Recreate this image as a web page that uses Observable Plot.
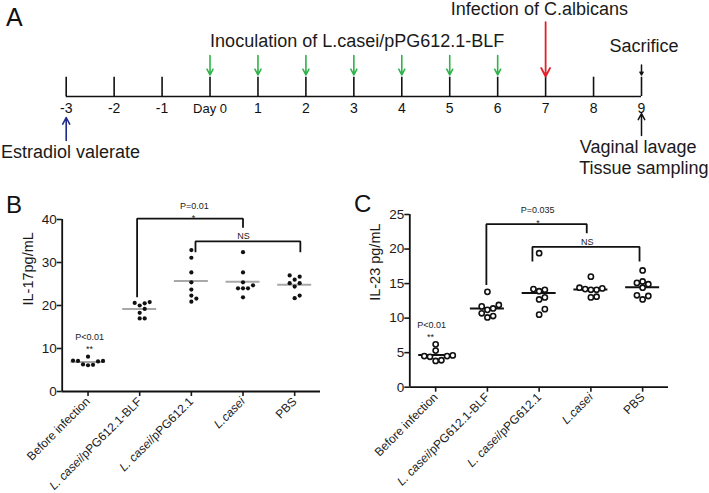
<!DOCTYPE html>
<html><head><meta charset="utf-8">
<script src="https://cdn.jsdelivr.net/npm/d3@7"></script>
<script src="https://cdn.jsdelivr.net/npm/@observablehq/plot@0.6"></script>
<style>
html,body{margin:0;padding:0;background:#fff;}
#fig{position:relative;width:709px;height:493px;overflow:hidden;font-family:"Liberation Sans",Arial,Helvetica,sans-serif;color:#1a1a1a;background:#fff;}
#fig svg{position:absolute;overflow:visible;}
.letter{position:absolute;line-height:1;font-family:"Liberation Sans",Arial,sans-serif;color:#111;}
</style></head><body><div id="fig"></div>
<script>
// ---------- Panel A: timeline data ----------
const days = [-3,-2,-1,0,1,2,3,4,5,6,7,8,9];
const dayLabels = ["-3","-2","-1","Day 0","1","2","3","4","5","6","7","8","9"];
const inoculationDays = [0,1,2,3,4,5,6];
const infectionDays = [7];
const sacrificeDays = [9];
const estradiolDays = [-3];
const samplingDays = [9];
const timelineTexts = ["Inoculation of L.casei/pPG612.1-BLF","Infection of C.albicans","Sacrifice","Estradiol valerate","Vaginal lavage","Tissue sampling"];
const timelineTextDays = [3.07, 6.87, 9.05, -2.91, 8.93, 9.05];

// ---------- Panels B and C: data ----------
const groups = ["Before infection","L. casei/pPG612.1-BLF","L. casei/pPG612.1","L.casei","PBS"];
const italicPart = ["","L. casei","L. casei","L.casei",""];

const il17Before = [7.1, 7.2, 7.0, 7.1, 8.1, 6.2, 6.1, 6.3];
const il17BLF    = [20.5, 20.0, 20.6, 20.8, 19.2, 18.3, 17.0, 17.0];
const il17PPG    = [32.9, 31.1, 27.7, 25.4, 23.7, 22.3, 21.6, 20.9];
const il17Casei  = [32.4, 27.7, 25.4, 24.7, 24.0, 24.0, 24.0, 21.9];
const il17PBS    = [27.0, 26.7, 26.0, 25.2, 25.2, 24.4, 22.3, 21.7];
const il17Ticks  = [0, 10, 20, 30, 40];

const il23Before = [6.2, 5.3, 4.6, 4.5, 4.5, 4.4, 3.9, 3.8];
const il23BLF    = [13.8, 11.9, 11.4, 11.2, 11.7, 10.7, 10.1, 10.3];
const il23PPG    = [19.4, 14.2, 14.1, 13.9, 13.0, 12.7, 11.3, 10.5];
const il23Casei  = [16.0, 14.4, 14.2, 14.1, 14.1, 14.3, 13.1, 13.0];
const il23PBS    = [16.9, 15.3, 15.1, 14.9, 14.4, 13.3, 13.2, 12.7];
const il23Ticks  = [0, 5, 10, 15, 20, 25];

// significance brackets (group units / value units)
const il17Brackets = [
  {xL: 0.95, xR: 3.00, top: 40.2, yL: 21.9, yR: 38.1},
  {xL: 2.08, xR: 4.11, top: 34.9, yL: 32.4, yR: 32.4}
];
const il17Notes = [
  {text: "P=0.01", x: 2.06, y: 43.2},
  {text: "*", x: 2.04, y: 40.4},
  {text: "NS", x: 3.01, y: 36.1},
  {text: "P<0.01", x: 0.03, y: 12.7},
  {text: "**", x: 0.03, y: 9.8}
];
const il23Brackets = [
  {xL: 0.98, xR: 2.92, top: 23.6, yL: 14.8, yR: 22.3},
  {xL: 1.87, xR: 3.94, top: 20.3, yL: 18.2, yR: 18.2}
];
const il23Notes = [
  {text: "P=0.035", x: 1.97, y: 25.6},
  {text: "*", x: 1.98, y: 23.7},
  {text: "NS", x: 2.93, y: 21.0},
  {text: "P<0.01", x: -0.08, y: 9.0},
  {text: "**", x: -0.1, y: 7.2}
];

// ---------- layout ----------
const FONT = '"Liberation Sans", Arial, Helvetica, sans-serif';
const LA = {base: 96, tickTop: 76.7, label: 108, greenTail: 55, greenTip: 74.5, redTail: 21.7, redTip: 76,
            sacTail: 64.5, sacTip: 74.5, estTail: 140, estTip: 117, sampTail: 135, sampTip: 113,
            textY: [40.9, 9.2, 45.9, 151.5, 146.8, 168]};

const fig = document.getElementById("fig");

// ---------- Panel A ----------
const aTexts = timelineTexts.map((t, i) => ({t, day: timelineTextDays[i], y: LA.textY[i]}));
const panelA = Plot.plot({
  width: 709, height: 180,
  marginLeft: 65.7, marginRight: 68, marginTop: 0, marginBottom: 0,
  style: {fontFamily: FONT, background: "transparent", overflow: "visible"},
  x: {domain: [days[0], days[days.length - 1]], axis: null},
  y: {domain: [0, 180], range: [0, 180], axis: null},
  marks: [
    Plot.ruleY([LA.base], {x1: days[0], x2: days[days.length - 1], stroke: "#111", strokeWidth: 1.6}),
    Plot.ruleX(days, {x: d => d, y1: LA.base, y2: LA.tickTop, stroke: "#111", strokeWidth: 1.6}),
    Plot.text(days.filter(d => d !== 0), {x: d => d, y: LA.label, text: d => dayLabels[days.indexOf(d)], fontSize: 14, fill: "#111"}),
    Plot.text(days.filter(d => d === 0), {x: d => d, y: LA.label, text: d => dayLabels[days.indexOf(d)], fontSize: 13, fill: "#111"}),
    Plot.arrow(inoculationDays, {x1: d => d, x2: d => d, y1: LA.greenTail, y2: LA.greenTip, stroke: "#2fb24a", strokeWidth: 1.6, headLength: 7, headAngle: 55}),
    Plot.arrow(infectionDays, {x1: d => d, x2: d => d, y1: LA.redTail, y2: LA.redTip, stroke: "#e3202a", strokeWidth: 1.8, headLength: 8, headAngle: 55}),
    Plot.arrow(sacrificeDays, {x1: d => d, x2: d => d, y1: LA.sacTail, y2: LA.sacTip, stroke: "#111", strokeWidth: 1.5, headLength: 7, headAngle: 55}),
    Plot.arrow(estradiolDays, {x1: d => d, x2: d => d, y1: LA.estTail, y2: LA.estTip, stroke: "#1f2a8c", strokeWidth: 1.6, headLength: 7, headAngle: 55}),
    Plot.arrow(samplingDays, {x1: d => d, x2: d => d, y1: LA.sampTail, y2: LA.sampTip, stroke: "#111", strokeWidth: 1.5, headLength: 7, headAngle: 55}),
    Plot.text(aTexts, {x: "day", y: "y", text: "t", fontSize: 18, fill: "#1a1a1a"})
  ]
});
panelA.style.left = "0px"; panelA.style.top = "0px";
fig.appendChild(panelA);

// ---------- beeswarm layout ----------
function swarm(values, pxPerUnit, spacing) {
  const order = d3.range(values.length).sort((a, b) => values[a] - values[b]);
  const placed = [], off = new Array(values.length);
  for (const i of order) {
    const y = values[i] * pxPerUnit;
    for (let k = 0; k < 50; k++) {
      const c = k === 0 ? 0 : (k % 2 ? 1 : -1) * Math.ceil(k / 2) * spacing;
      if (placed.every(p => (p.x - c) ** 2 + (p.y - y) ** 2 >= spacing * spacing * 0.97)) {
        off[i] = c; placed.push({x: c, y}); break;
      }
    }
  }
  return off;
}

function dotPanel(cfg) {
  const {values, ticks, label, brackets, notes, width, height, mL, mR, mT, mB, open, meanColor, r, spacing, labelDx} = cfg;
  const yMax = ticks[ticks.length - 1];
  const pxPerUnit = (height - mT - mB) / yMax;
  const stepPx = (width - mL - mR) / groups.length;
  const pts = values.flatMap((vals, g) => {
    const off = swarm(vals, pxPerUnit, spacing);
    return vals.map((v, j) => ({g, v, x: g + off[j] / stepPx}));
  });
  const half = 17 / stepPx;
  const means = values.map((vals, g) => ({g, m: d3.mean(vals)}));
  const bp = brackets.flatMap((b, k) => [
    {k, x: b.xL, y: b.yL}, {k, x: b.xL, y: b.top}, {k, x: b.xR, y: b.top}, {k, x: b.xR, y: b.yR}
  ]);
  const svg = Plot.plot({
    width, height, marginLeft: mL, marginRight: mR, marginTop: mT, marginBottom: mB,
    style: {fontFamily: FONT, background: "transparent", overflow: "visible", color: "#1a1a1a"},
    x: {domain: [-0.5, groups.length - 0.5]},
    y: {domain: [0, yMax]},
    marks: [
      Plot.axisY({ticks, tickSize: 5, tickPadding: 0.5, fontSize: 13.5, strokeWidth: 1.6, label: null}),
      Plot.axisX({ticks: d3.range(groups.length), tickFormat: i => groups[i], tickRotate: -45, tickSize: 5, tickPadding: 3, fontSize: 12, strokeWidth: 1.6, label: null}),
      Plot.ruleY([0], {stroke: "#111", strokeWidth: 1.8}),
      Plot.ruleX([-0.5], {y1: 0, y2: yMax, stroke: "#111", strokeWidth: 1.8}),
      Plot.ruleY(means, {x1: d => d.g - half, x2: d => d.g + half, y: "m", stroke: meanColor, strokeWidth: 2}),
      open
        ? Plot.dot(pts, {x: "x", y: "v", r, stroke: "#111", strokeWidth: 1.6, fill: "white"})
        : Plot.dot(pts, {x: "x", y: "v", r, fill: "#111", stroke: "none"}),
      Plot.line(bp, {x: "x", y: "y", z: "k", stroke: "#111", strokeWidth: 1.8, strokeLinejoin: "miter", strokeLinecap: "butt"}),
      Plot.text(notes, {x: "x", y: "y", text: "text", fontSize: 9, fill: "#222"}),
      Plot.text([label], {text: d => d, frameAnchor: "left", rotate: -90, dx: labelDx, fontSize: 14.5, fill: "#1a1a1a"})
    ]
  });
  d3.select(svg).selectAll("text").each(function () {
    const s = this.textContent;
    const i = groups.indexOf(s);
    if (i < 0 || !italicPart[i]) return;
    const it = italicPart[i], rest = s.slice(it.length);
    const sel = d3.select(this);
    sel.text(null);
    sel.append("tspan").attr("font-style", "italic").text(it);
    if (rest) sel.append("tspan").text(rest);
  });
  return svg;
}

const panelB = dotPanel({
  values: [il17Before, il17BLF, il17PPG, il17Casei, il17PBS], ticks: il17Ticks, label: "IL-17pg/mL",
  brackets: il17Brackets, notes: il17Notes,
  width: 350, height: 303, mL: 61.7, mR: 30, mT: 29, mB: 102,
  open: false, meanColor: "#a8a8a8", r: 2.1, spacing: 5, labelDx: -34
});
panelB.style.left = "0px"; panelB.style.top = "190px";
fig.appendChild(panelB);

const panelC = dotPanel({
  values: [il23Before, il23BLF, il23PPG, il23Casei, il23PBS], ticks: il23Ticks, label: "IL-23 pg/mL",
  brackets: il23Brackets, notes: il23Notes,
  width: 359, height: 303, mL: 59.3, mR: 41, mT: 24, mB: 106.3,
  open: true, meanColor: "#111", r: 2.6, spacing: 5.7, labelDx: -34.3
});
panelC.style.left = "350px"; panelC.style.top = "190px";
fig.appendChild(panelC);

// panel letters
[["A", 6, 4.7, 25], ["B", 6, 193, 24], ["C", 354, 192, 24]].forEach(([t, x, y, s]) => {
  const d = document.createElement("div");
  d.className = "letter"; d.textContent = t;
  d.style.left = x + "px"; d.style.top = y + "px"; d.style.fontSize = s + "px";
  fig.appendChild(d);
});
</script></body></html>
